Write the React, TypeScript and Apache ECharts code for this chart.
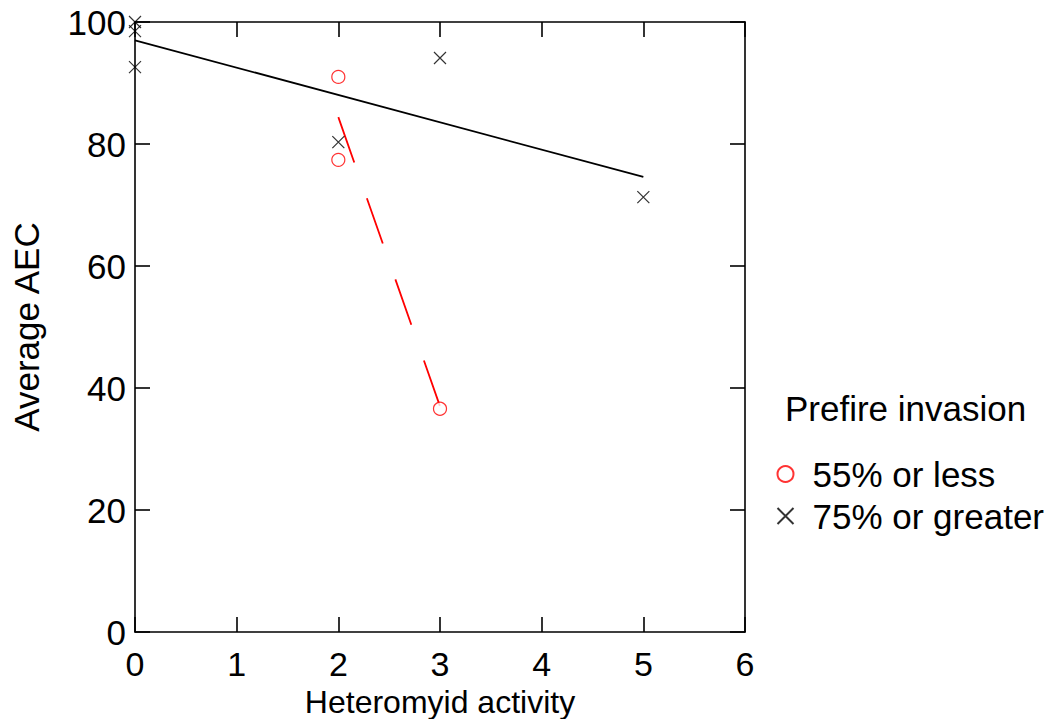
import React, { useEffect, useRef } from "react";
import * as echarts from "echarts";

const lowInvasionPoints: [number, number][] = [
  [2, 91.0],
  [2, 77.4],
  [3, 36.6],
];
const highInvasionPoints: [number, number][] = [
  [0, 100],
  [0, 98.5],
  [0, 92.6],
  [2, 80.3],
  [3, 94.1],
  [5, 71.3],
];
const lowInvasionFit: [number, number][] = [
  [2, 84.4],
  [3, 37.0],
];
const highInvasionFit: [number, number][] = [
  [0, 97.0],
  [5, 74.6],
];
const xTicks = [0, 1, 2, 3, 4, 5, 6];
const yTicks = [0, 20, 40, 60, 80, 100];

const CROSS = "path://M0,0L10,10M10,0L0,10";
const FONT = "Liberation Sans, Arial, sans-serif";

export default function App() {
  const ref = useRef<HTMLDivElement>(null);
  useEffect(() => {
    document.body.style.margin = "0";
    const chart = echarts.init(ref.current!, null, { renderer: "svg" });
    const axisLine = { show: true, onZero: false, lineStyle: { color: "#000", width: 1.6 } };
    const tick = { show: true, inside: true, length: 15, lineStyle: { color: "#000", width: 1.6 } };
    chart.setOption({
      animation: false,
      backgroundColor: "#fff",
      textStyle: { fontFamily: FONT },
      grid: {
        left: 135,
        top: 22,
        width: 610,
        height: 610,
        containLabel: false,
        outerBoundsMode: "none",
      },
      title: {
        text: "Prefire invasion",
        left: 785,
        top: 391,
        padding: 0,
        textStyle: { fontFamily: FONT, fontSize: 35, fontWeight: "normal", color: "#000" },
      },
      legend: {
        data: ["55% or less", "75% or greater"],
        orient: "vertical",
        left: 775,
        top: 456,
        padding: 0,
        itemWidth: 16,
        itemHeight: 16,
        itemGap: 6,
        textStyle: {
          fontFamily: FONT,
          fontSize: 35,
          lineHeight: 36,
          color: "#000",
          padding: [0, 0, 0, 14],
        },
      },
      xAxis: [
        {
          type: "value",
          min: 0,
          max: xTicks[xTicks.length - 1],
          interval: 1,
          name: "Heteromyid activity",
          nameLocation: "middle",
          nameGap: 53,
          nameTextStyle: { fontFamily: FONT, fontSize: 32, color: "#000" },
          axisLine,
          axisTick: tick,
          axisLabel: { fontFamily: FONT, fontSize: 34, color: "#000", margin: 15 },
          splitLine: { show: false },
        },
        {
          type: "value",
          position: "top",
          min: 0,
          max: xTicks[xTicks.length - 1],
          interval: 1,
          axisLine,
          axisTick: tick,
          axisLabel: { show: false },
          splitLine: { show: false },
        },
      ],
      yAxis: [
        {
          type: "value",
          min: 0,
          max: yTicks[yTicks.length - 1],
          interval: 20,
          name: "Average AEC",
          nameLocation: "middle",
          nameGap: 91,
          nameTextStyle: { fontFamily: FONT, fontSize: 35, color: "#000" },
          axisLine,
          axisTick: tick,
          axisLabel: { fontFamily: FONT, fontSize: 35, color: "#000", margin: 9 },
          splitLine: { show: false },
        },
        {
          type: "value",
          position: "right",
          min: 0,
          max: yTicks[yTicks.length - 1],
          interval: 20,
          axisLine,
          axisTick: tick,
          axisLabel: { show: false },
          splitLine: { show: false },
        },
      ],
      series: [
        {
          name: "55% or less",
          type: "scatter",
          data: lowInvasionPoints,
          symbol: "circle",
          symbolSize: 13,
          itemStyle: { color: "#fff", borderColor: "#ff0000", borderWidth: 1.2 },
          z: 5,
        },
        {
          name: "75% or greater",
          type: "scatter",
          data: highInvasionPoints,
          symbol: CROSS,
          symbolSize: 12,
          itemStyle: { color: "none", borderColor: "#000", borderWidth: 1.2 },
          z: 5,
        },
        {
          type: "line",
          data: highInvasionFit,
          symbol: "none",
          lineStyle: { color: "#000", width: 1.8 },
          z: 3,
        },
        {
          type: "line",
          data: lowInvasionFit,
          symbol: "none",
          lineStyle: { color: "#ff0000", width: 1.8, type: [48, 38] },
          z: 3,
        },
      ],
    });
    return () => chart.dispose();
  }, []);
  return <div ref={ref} style={{ width: 1058, height: 719 }} />;
}
